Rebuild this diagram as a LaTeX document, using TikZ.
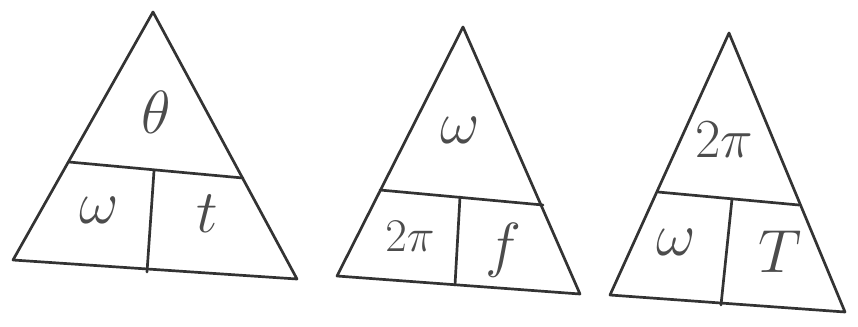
\documentclass[tikz,border=0pt]{standalone}
\usepackage{fix-cm}
\usepackage{amsmath,amssymb}
\usetikzlibrary{positioning}

\begin{document}
\begin{tikzpicture}[
    x=0.03cm, y=-0.03cm,
    side/.style={draw=black!80, line width=2.3pt, line join=round, line cap=round},
    lbl/.style={font=\fontsize{52}{58}\selectfont, text=black!70},
    small lbl/.style={font=\fontsize{40}{46}\selectfont, text=black!70},
    mid lbl/.style={font=\fontsize{47}{52}\selectfont, text=black!70}
]
    \useasboundingbox (0,0) rectangle (858,326);

    % theta = omega t
    \coordinate (a1) at (153,12);
    \coordinate (b1) at (13,260);
    \coordinate (c1) at (297,279);
    \coordinate (l1) at (69,162);
    \coordinate (r1) at (243,178);
    \coordinate (d1) at (154,171);
    \coordinate (e1) at (147,272);
    \draw[side] (a1) -- (b1) -- (c1) -- cycle;
    \draw[side] (l1) -- (r1);
    \draw[side] (d1) -- (e1);
    \node[lbl] (theta1) at (156,112) {$\theta$};
    \node[lbl] (omega1) at (99,210) {$\omega$};
    \node[lbl] (t1) at (207,214) {$t$};

    % omega = 2 pi f
    \coordinate (a2) at (463,27);
    \coordinate (b2) at (337,276);
    \coordinate (c2) at (580,294);
    \coordinate (l2) at (380,190);
    \coordinate (r2) at (543,205);
    \coordinate (d2) at (460,197);
    \coordinate (e2) at (455,285);
    \draw[side] (a2) -- (b2) -- (c2) -- cycle;
    \draw[side] (l2) -- (r2);
    \draw[side] (d2) -- (e2);
    \node[lbl] (omega2) at (460,130) {$\omega$};
    \node[small lbl] (twopi2) at (410,236) {$2\pi$};
    \node[lbl] (f2) at (503,250) {$f$};

    % 2 pi = omega T
    \coordinate (a3) at (729,33);
    \coordinate (b3) at (610,295);
    \coordinate (c3) at (845,312);
    \coordinate (l3) at (658,192);
    \coordinate (r3) at (799,205);
    \coordinate (d3) at (732,199);
    \coordinate (e3) at (721,305);
    \draw[side] (a3) -- (b3) -- (c3) -- cycle;
    \draw[side] (l3) -- (r3);
    \draw[side] (d3) -- (e3);
    \node[mid lbl] (twopi3) at (724,140) {$2\pi$};
    \node[lbl] (omega3) at (676,242) {$\omega$};
    \node[lbl] (T3) at (780,252) {$T$};
\end{tikzpicture}
\end{document}
